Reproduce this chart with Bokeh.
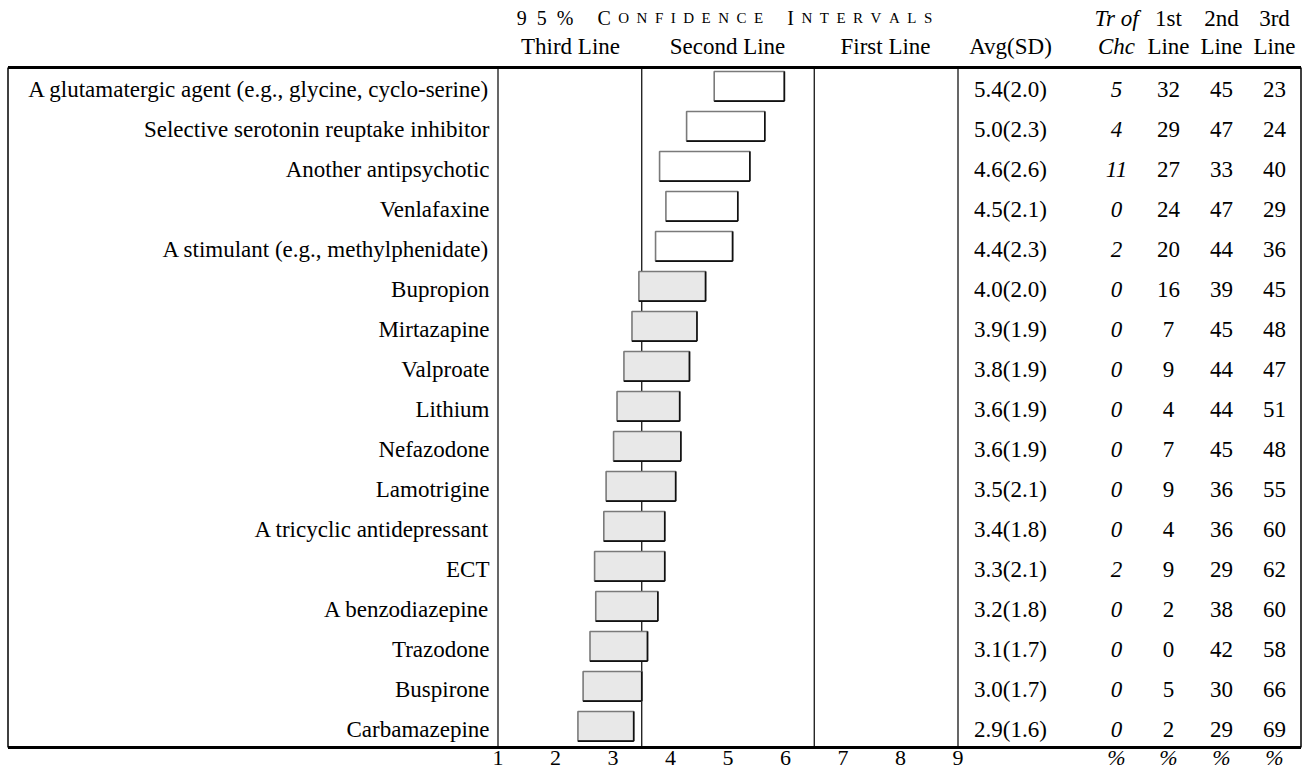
from bokeh.plotting import figure
from bokeh.models import Range1d, ColumnDataSource
from bokeh.core.properties import value
from bokeh.embed import file_html
from bokeh.resources import INLINE

# ---------------- data ----------------
treatments = [
    "A glutamatergic agent (e.g., glycine, cyclo-serine)",
    "Selective serotonin reuptake inhibitor",
    "Another antipsychotic",
    "Venlafaxine",
    "A stimulant (e.g., methylphenidate)",
    "Bupropion",
    "Mirtazapine",
    "Valproate",
    "Lithium",
    "Nefazodone",
    "Lamotrigine",
    "A tricyclic antidepressant",
    "ECT",
    "A benzodiazepine",
    "Trazodone",
    "Buspirone",
    "Carbamazepine",
]
ci_low = [4.76, 4.28, 3.81, 3.92, 3.74, 3.45, 3.33, 3.19, 3.07, 3.01, 2.88, 2.84, 2.68, 2.70, 2.60, 2.48, 2.39]
ci_high = [5.98, 5.64, 5.38, 5.17, 5.08, 4.61, 4.46, 4.33, 4.16, 4.18, 4.09, 3.90, 3.90, 3.78, 3.60, 3.50, 3.36]
avg = [5.4, 5.0, 4.6, 4.5, 4.4, 4.0, 3.9, 3.8, 3.6, 3.6, 3.5, 3.4, 3.3, 3.2, 3.1, 3.0, 2.9]
sd = [2.0, 2.3, 2.6, 2.1, 2.3, 2.0, 1.9, 1.9, 1.9, 1.9, 2.1, 1.8, 2.1, 1.8, 1.7, 1.7, 1.6]
treatment_of_choice = [5, 4, 11, 0, 2, 0, 0, 0, 0, 0, 0, 0, 2, 0, 0, 0, 0]
first_line = [32, 29, 27, 24, 20, 16, 7, 9, 4, 7, 9, 4, 9, 2, 0, 5, 2]
second_line = [45, 47, 33, 47, 44, 39, 45, 44, 44, 45, 36, 36, 29, 38, 42, 30, 29]
third_line = [23, 24, 40, 29, 36, 45, 48, 47, 51, 48, 55, 60, 62, 60, 58, 66, 69]
scale_ticks = [1, 2, 3, 4, 5, 6, 7, 8, 9]
band_edges = [1, 3.5, 6.5, 9]
band_names = ["Third Line", "Second Line", "First Line"]
title_words = [["95%"], ["C", "ONFIDENCE"], ["I", "NTERVALS"]]

# ---------------- layout ----------------
W, H = 1307, 773
UNIT = 57.5            # px per scale unit
X_ONE = 497.5          # page px of scale value 1
TOP_PX = 67.0          # page px of the top rule
ROW_PX = 40.0          # px per table row


def sx(px):
    """page pixel -> scale coordinate (layout helper)"""
    return 1 + (px - X_ONE) / UNIT


def sy(px):
    """page pixel -> row coordinate (layout helper)"""
    return -0.5 + (px - TOP_PX) / ROW_PX


FONT = value("Liberation Serif")
FS = "23px"
HFS = "23px"

p = figure(width=W, height=H, x_range=Range1d(sx(0), sx(W)),
           y_range=Range1d(sy(H), sy(0)), output_backend="svg",
           toolbar_location=None, x_axis_location=None, y_axis_location=None,
           min_border=0, background_fill_color="white", border_fill_color="white")
p.grid.visible = False
p.outline_line_color = None

n = len(treatments)
rows = list(range(n))
TOP, BOTTOM = -0.5, n - 0.5

# column centres (layout)
COL_AVG = sx(1010)
COL_TR = sx(1116)
COL_1 = sx(1168)
COL_2 = sx(1221)
COL_3 = sx(1274)
LEFT = sx(7.5)
RIGHT = sx(1300.5)

# frame lines
p.segment(x0=band_edges, y0=[TOP] * len(band_edges), x1=band_edges,
          y1=[BOTTOM] * len(band_edges), line_color="black", line_width=1.2)
p.segment(x0=[LEFT, RIGHT], y0=[TOP, TOP], x1=[LEFT, RIGHT], y1=[BOTTOM, BOTTOM],
          line_color="black", line_width=1.5)
p.segment(x0=[LEFT, LEFT], y0=[TOP, BOTTOM], x1=[RIGHT, RIGHT], y1=[TOP, BOTTOM],
          line_color="black", line_width=3)

# confidence boxes
BH = 0.74
yc = [r - 0.03 for r in rows]
fills = ["white" if lo > band_edges[1] else "#e8e8e8" for lo in ci_low]
src = ColumnDataSource(dict(
    lo=ci_low, hi=ci_high, top=[y - BH / 2 for y in yc], bot=[y + BH / 2 for y in yc],
    fill=fills))
p.quad(left="lo", right="hi", top="top", bottom="bot", fill_color="fill",
       line_color="#7a7a7a", line_width=1.6, source=src)
p.segment(x0="lo", y0="bot", x1="hi", y1="bot", line_color="#111111", line_width=1.6, source=src)
p.segment(x0="hi", y0="top", x1="hi", y1="bot", line_color="#111111", line_width=1.6, source=src)

# row texts
tsrc = ColumnDataSource(dict(
    y=[r + 0.05 for r in rows], name=treatments,
    avg=[f"{a:.1f}({s:.1f})" for a, s in zip(avg, sd)],
    tr=[str(v) for v in treatment_of_choice],
    f1=[str(v) for v in first_line],
    f2=[str(v) for v in second_line],
    f3=[str(v) for v in third_line]))
common = dict(y="y", source=tsrc, text_font=FONT, text_font_size=FS,
              text_baseline="alphabetic", text_color="black")
p.text(x=sx(489), text="name", text_align="right", **common)
p.text(x=COL_AVG, text="avg", text_align="center", **common)
p.text(x=COL_TR, text="tr", text_align="center", text_font_style="italic", **common)
p.text(x=COL_1, text="f1", text_align="center", **common)
p.text(x=COL_2, text="f2", text_align="center", **common)
p.text(x=COL_3, text="f3", text_align="center", **common)

# headers
HY1 = sy(17.5)
HY2 = sy(45.5)
hdr = dict(text_font=FONT, text_font_size=HFS, text_baseline="alphabetic", text_color="black")
band_centres = [sx(570), sx(727), sx(885)]
p.text(x=band_centres, y=[HY2] * 3, text=band_names, text_align="center", **hdr)
p.text(x=[COL_AVG, COL_1, COL_2, COL_3], y=[HY2] * 4, text=["Avg(SD)", "Line", "Line", "Line"],
       text_align="center", **hdr)
p.text(x=[COL_1, COL_2, COL_3], y=[HY1] * 3, text=["1st", "2nd", "3rd"], text_align="center", **hdr)
p.text(x=[COL_TR, COL_TR], y=[HY1, HY2], text=["Tr of", "Chc"], text_font_style="italic",
       text_align="center", **hdr)

# letter-spaced small-caps title (segments laid out with Times advance widths)
ADV = {"9": 500, "5": 500, "%": 833, "C": 667, "O": 722, "N": 722, "F": 556, "I": 333,
       "D": 722, "E": 611, "T": 611, "R": 667, "V": 722, "A": 722, "L": 611, "S": 556}
BIG, SMALL = 20.0, 15.0
SEP = "\u2002"
segs = []
xcur = 0.0
for wi, word in enumerate(title_words):
    if wi > 0:
        xcur += 1.2 * BIG
    for si, part in enumerate(word):
        size = BIG if (si == 0 and wi > 0) or len(word) == 1 else SMALL
        if si > 0:
            xcur += 0.5 * SMALL
        width = sum(ADV[c] for c in part) * size / 1000 + (len(part) - 1) * 0.5 * size
        segs.append((xcur, SEP.join(part), size))
        xcur += width
title_left = 724.0 - xcur / 2
p.text(x=[sx(title_left + s[0]) for s in segs], y=[HY1] * len(segs),
       text=[s[1] for s in segs], text_font=FONT,
       text_font_size=[f"{s[2]:.0f}px" for s in segs],
       text_align="left", text_baseline="alphabetic", text_color="black")

# scale tick labels and % column markers under the table
pct_cols = [COL_TR, COL_1, COL_2, COL_3]
LAB_Y = sy(757.0)
p.text(x=scale_ticks, y=[LAB_Y] * len(scale_ticks), text=[str(t) for t in scale_ticks],
       text_font=FONT, text_font_size="22px", text_align="center", text_baseline="alphabetic",
       text_color="black")
p.text(x=pct_cols, y=[LAB_Y] * len(pct_cols), text=["%"] * len(pct_cols),
       text_font=FONT, text_font_size="22px", text_font_style="italic", text_align="center",
       text_baseline="alphabetic", text_color="black")

open("out.html", "w").write(file_html(p, INLINE))
